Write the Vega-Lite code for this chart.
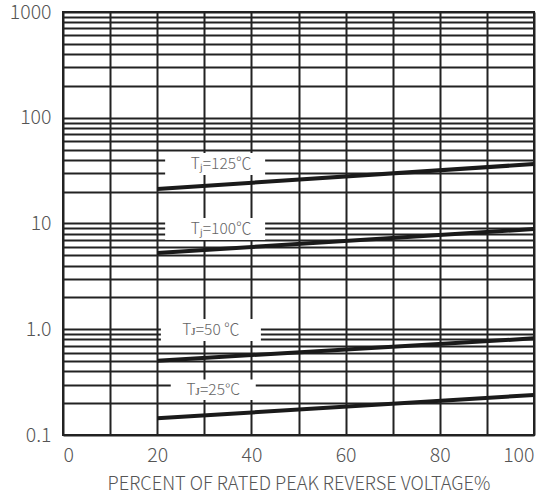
{
  "$schema": "https://vega.github.io/schema/vega-lite/v6.json",
  "width": 471,
  "height": 423,
  "autosize": {"type": "none"},
  "padding": {"left": 63, "top": 12, "right": 25, "bottom": 63},
  "background": "white",
  "config": {
    "view": {"stroke": "#222", "strokeWidth": 2},
    "axis": {
      "domain": false,
      "ticks": false,
      "gridColor": "#222",
      "gridWidth": 2,
      "gridOpacity": 1,
      "labelFont": "Noto Sans CJK SC",
      "labelFontWeight": 300,
      "labelColor": "#555",
      "labelFontSize": 19.5,
      "labelOverlap": false,
      "labelBound": false,
      "titleFont": "Noto Sans CJK SC",
      "titleFontWeight": 300,
      "titleColor": "#555",
      "titleFontSize": 18.25
    }
  },
  "datasets": {
    "curves": [
      {"series": "125", "x": 20, "y": 21.2},
      {"series": "125", "x": 100, "y": 36.5},
      {"series": "100", "x": 20, "y": 5.26},
      {"series": "100", "x": 100, "y": 8.87},
      {"series": "50", "x": 20, "y": 0.504},
      {"series": "50", "x": 100, "y": 0.82},
      {"series": "25", "x": 20, "y": 0.144},
      {"series": "25", "x": 100, "y": 0.239}
    ],
    "labels": [
      {"label": "Tⱼ=125℃", "x": 32.3, "y": 36.6},
      {"label": "Tⱼ=100℃", "x": 32.3, "y": 8.87},
      {"label": "Tᴊ=50 ℃", "x": 31.4, "y": 0.984},
      {"label": "Tᴊ=25°C", "x": 31.9, "y": 0.268}
    ]
  },
  "encoding": {
    "x": {
      "field": "x",
      "type": "quantitative",
      "scale": {"domain": [0, 100], "nice": false, "zero": false},
      "axis": {
        "values": [0, 10, 20, 30, 40, 50, 60, 70, 80, 90, 100],
        "labelExpr": "datum.value % 20 == 0 ? datum.label : ''",
        "labelPadding": 11,
        "title": "PERCENT OF RATED PEAK REVERSE VOLTAGE%",
        "titlePadding": 11
      }
    },
    "y": {
      "field": "y",
      "type": "quantitative",
      "scale": {"type": "log", "domain": [0.1, 1000], "nice": false},
      "axis": {
        "values": [0.1, 0.2, 0.3, 0.4, 0.5, 0.6, 0.7, 0.8, 0.9, 1, 2, 3, 4, 5, 6, 7, 8, 9, 10, 20, 30, 40, 50, 60, 70, 80, 90, 100, 200, 300, 400, 500, 600, 700, 800, 900, 1000],
        "labelExpr": "datum.value == 0.1 ? '0.1' : datum.value == 1 ? '1.0' : datum.value == 10 ? '10' : datum.value == 100 ? '100' : datum.value == 1000 ? '1000' : ''",
        "labelPadding": 12,
        "title": null
      }
    }
  },
  "layer": [
    {
      "data": {"name": "labels"},
      "transform": [{"filter": "datum.label != 'Tᴊ=25°C'"}],
      "mark": {"type": "point", "shape": "M-1,-0.22H1V0.22H-1Z", "size": 10000, "filled": true, "fill": "white", "opacity": 1, "strokeWidth": 0}
    },
    {
      "data": {"name": "labels"},
      "transform": [{"filter": "datum.label == 'Tᴊ=25°C'"}],
      "mark": {"type": "point", "shape": "M-1,-0.24H1V0.24H-1Z", "size": 7225, "filled": true, "fill": "white", "opacity": 1, "strokeWidth": 0}
    },
    {
      "data": {"name": "curves"},
      "mark": {"type": "line", "color": "#1a1a1a", "strokeWidth": 4},
      "encoding": {"detail": {"field": "series"}}
    },
    {
      "data": {"name": "labels"},
      "transform": [{"filter": "datum.y > 5"}],
      "mark": {"type": "text", "font": "Noto Sans CJK SC", "fontWeight": 300, "fontSize": 15.5, "color": "#666", "dx": 6},
      "encoding": {"text": {"field": "label"}}
    },
    {
      "data": {"name": "labels"},
      "transform": [{"filter": "datum.y < 5"}],
      "mark": {"type": "text", "font": "Noto Sans CJK SC", "fontWeight": 300, "fontSize": 15.5, "color": "#666"},
      "encoding": {"text": {"field": "label"}}
    }
  ]
}
